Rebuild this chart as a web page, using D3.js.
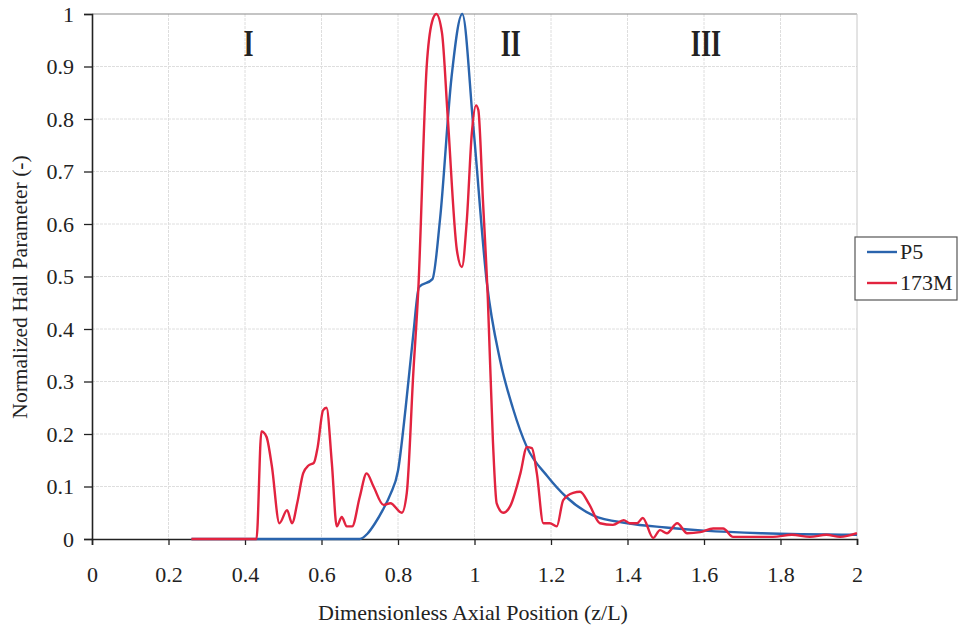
<!DOCTYPE html>
<html>
<head>
<meta charset="utf-8">
<script src="https://cdn.jsdelivr.net/npm/d3@7"></script>
<style>
  body { margin: 0; background: #fff; }
  text { font-family: "Liberation Serif", "Times New Roman", serif; fill: #222; }
</style>
</head>
<body>
<div id="chart"></div>
<script>
// P5 (blue)
const p5X = [0.26, 0.44, 0.70, 0.72, 0.74, 0.76, 0.78, 0.80, 0.82, 0.84, 0.855, 0.89, 0.91, 0.94, 0.968,
  0.997, 1.032, 1.067, 1.10, 1.137, 1.19, 1.24, 1.31, 1.40, 1.50, 1.60, 1.75, 2.0];
const p5Y = [0, 0, 0, 0.01, 0.03, 0.055, 0.085, 0.13, 0.25, 0.39, 0.48, 0.495, 0.61, 0.88, 1.0,
  0.785, 0.49, 0.34, 0.25, 0.175, 0.12, 0.08, 0.045, 0.03, 0.022, 0.016, 0.011, 0.008];

// 173M (red)
const m173X = [0.26, 0.43, 0.443, 0.456, 0.47, 0.49, 0.51, 0.523, 0.537, 0.552, 0.566, 0.58, 0.59, 0.604,
  0.613, 0.627, 0.64, 0.653, 0.666, 0.68, 0.70, 0.718, 0.736, 0.762, 0.78, 0.81, 0.823, 0.84, 0.853,
  0.875, 0.889, 0.90, 0.915, 0.93, 0.954, 0.967, 0.98, 0.993, 1.004, 1.01, 1.022, 1.035, 1.048, 1.058,
  1.075, 1.093, 1.12, 1.137, 1.15, 1.163, 1.18, 1.197, 1.215, 1.232, 1.258, 1.276, 1.30, 1.328, 1.362,
  1.39, 1.406, 1.425, 1.44, 1.467, 1.485, 1.503, 1.53, 1.556, 1.59, 1.624, 1.65, 1.676, 1.71, 1.78,
  1.83, 1.877, 1.92, 1.956, 2.0];
const m173Y = [0, 0, 0.205, 0.195, 0.14, 0.03, 0.055, 0.03, 0.07, 0.125, 0.14, 0.145, 0.175, 0.245,
  0.25, 0.145, 0.024, 0.042, 0.024, 0.024, 0.08, 0.125, 0.1, 0.065, 0.068, 0.05, 0.088, 0.316, 0.474,
  0.9, 0.985, 1.0, 0.964, 0.804, 0.55, 0.518, 0.608, 0.773, 0.826, 0.817, 0.646, 0.455, 0.189, 0.068,
  0.05, 0.062, 0.125, 0.175, 0.173, 0.125, 0.03, 0.03, 0.024, 0.074, 0.088, 0.09, 0.066, 0.03, 0.027,
  0.036, 0.03, 0.03, 0.04, 0.002, 0.017, 0.011, 0.03, 0.011, 0.013, 0.02, 0.02, 0.004, 0.004, 0.004,
  0.008, 0.004, 0.008, 0.004, 0.011];

const xTicks = [0, 0.2, 0.4, 0.6, 0.8, 1, 1.2, 1.4, 1.6, 1.8, 2];
const yTicks = [0, 0.1, 0.2, 0.3, 0.4, 0.5, 0.6, 0.7, 0.8, 0.9, 1];
const regionLabels = ["I", "II", "III"];
const regionX = [0.409, 1.095, 1.605];
const seriesNames = ["P5", "173M"];
const blue = "#2a64ad";
const red = "#e2233f";

const W = 959, H = 628;
const margin = { top: 14, right: 102, bottom: 89, left: 92 };
const width = W - margin.left - margin.right;
const height = H - margin.top - margin.bottom;

const svg = d3.select("#chart").append("svg")
  .attr("width", W).attr("height", H);

const g = svg.append("g").attr("transform", `translate(${margin.left},${margin.top})`);

const x = d3.scaleLinear().domain([0, 2]).range([0, width]);
const y = d3.scaleLinear().domain([0, 1]).range([height, 0]);

// grid
g.append("g").selectAll("line").data(yTicks.slice(1, -1)).join("line")
  .attr("x1", 0).attr("x2", width)
  .attr("y1", d => y(d)).attr("y2", d => y(d))
  .attr("stroke", "#dedede").attr("stroke-dasharray", "3,1");
g.append("g").selectAll("line").data(xTicks.slice(1, -1)).join("line")
  .attr("y1", 0).attr("y2", height)
  .attr("x1", d => x(d)).attr("x2", d => x(d))
  .attr("stroke", "#dedede").attr("stroke-dasharray", "3,1");

// top and right frame
g.append("line").attr("x1", 0).attr("x2", width).attr("y1", 0).attr("y2", 0)
  .attr("stroke", "#8a8a8a").attr("stroke-width", 1.2);
g.append("line").attr("x1", width).attr("x2", width).attr("y1", 0).attr("y2", height)
  .attr("stroke", "#c8c8c8");

// axes
const xAxis = g.append("g").attr("transform", `translate(0,${height})`)
  .call(d3.axisBottom(x).tickValues(xTicks).tickSize(6).tickPadding(21).tickFormat(d3.format("")));
const yAxis = g.append("g")
  .call(d3.axisLeft(y).tickValues(yTicks).tickSize(8).tickPadding(10).tickFormat(d3.format("")));
[xAxis, yAxis].forEach(a => {
  a.select(".domain").attr("stroke", "#222").attr("stroke-width", 1.6);
  a.selectAll(".tick line").attr("stroke", "#222").attr("stroke-width", 1.3);
  a.selectAll(".tick text").style("font-size", "22px").attr("fill", "#222")
    .style("font-family", "'Liberation Serif', serif");
});

// lines
const line = d3.line().x(d => x(d[0])).y(d => y(d[1])).curve(d3.curveMonotoneX);
g.append("path").datum(d3.zip(p5X, p5Y))
  .attr("d", line).attr("fill", "none").attr("stroke", blue).attr("stroke-width", 2.4);
g.append("path").datum(d3.zip(m173X, m173Y))
  .attr("d", line).attr("fill", "none").attr("stroke", red).attr("stroke-width", 2.4);

// region labels (tall, narrow in the original)
g.selectAll(".region").data(regionLabels).join("text")
  .attr("class", "region")
  .attr("transform", (d, i) => `translate(${x(regionX[i])},${42}) scale(0.68,1)`)
  .attr("text-anchor", "middle")
  .style("font-size", "38px").style("font-weight", "bold")
  .text(d => d);

// axis titles
svg.append("text").attr("x", 473).attr("y", 620)
  .attr("text-anchor", "middle").style("font-size", "22px")
  .text("Dimensionless Axial Position (z/L)");
svg.append("text")
  .attr("transform", "translate(27,287) rotate(-90)")
  .attr("text-anchor", "middle").style("font-size", "21.5px")
  .text("Normalized Hall Parameter (-)");

// legend
const leg = svg.append("g").attr("transform", "translate(855,237)");
leg.append("rect").attr("width", 102).attr("height", 63)
  .attr("fill", "#fff").attr("stroke", "#555").attr("stroke-width", 1.2);
seriesNames.forEach((s, i) => {
  const ly = 15 + i * 31;
  leg.append("line").attr("x1", 12).attr("x2", 42).attr("y1", ly).attr("y2", ly)
    .attr("stroke", i === 0 ? blue : red).attr("stroke-width", 2.4);
  leg.append("text").attr("x", 45).attr("y", ly + 7).style("font-size", "22px").text(s);
});
</script>
</body>
</html>
